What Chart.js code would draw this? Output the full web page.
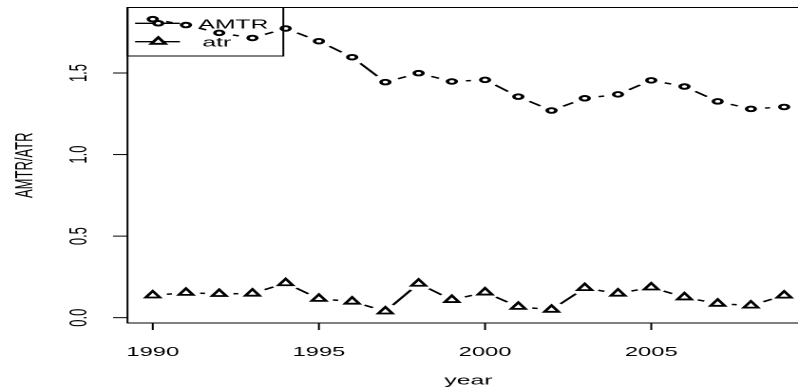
<!DOCTYPE html>
<html>
<head>
<meta charset="utf-8">
<script src="https://cdn.jsdelivr.net/npm/chart.js@4"></script>
<style>
  html, body { margin: 0; padding: 0; background: #fff; overflow: hidden; }
  /* the reference is an R plot stretched sideways, so draw narrow and widen */
  #wrap { width: 440px; height: 390px; transform: scaleX(1.9); transform-origin: 0 0; }
</style>
</head>
<body>
<div id="wrap"><canvas id="chart"></canvas></div>
<script>
// data
const years = [1990, 1991, 1992, 1993, 1994, 1995, 1996, 1997, 1998, 1999,
               2000, 2001, 2002, 2003, 2004, 2005, 2006, 2007, 2008, 2009];
const amtr = [1.830, 1.794, 1.746, 1.715, 1.773, 1.695, 1.597, 1.444, 1.499, 1.448,
              1.458, 1.355, 1.270, 1.345, 1.369, 1.455, 1.417, 1.326, 1.280, 1.292];
const atr = [0.137, 0.153, 0.146, 0.148, 0.212, 0.116, 0.099, 0.039, 0.209, 0.109,
             0.155, 0.067, 0.049, 0.182, 0.148, 0.186, 0.125, 0.086, 0.075, 0.136];
const xTicks = [1990, 1995, 2000, 2005];
const xTickLabels = ['1990', '1995', '2000', '2005'];
const yTicks = [0, 0.5, 1.0, 1.5];
const yTickLabels = ['0.0', '0.5', '1.0', '1.5'];
const seriesNames = ['AMTR', 'atr'];

// R style axis range: data range plus 4% each side
const allY = amtr.concat(atr);
const yLo = Math.min(...allY), yHi = Math.max(...allY);
const yPad = (yHi - yLo) * 0.04;
const xPad = (years[years.length - 1] - years[0]) * 0.04;

const pts = arr => years.map((y, i) => ({ x: y, y: arr[i] }));
const FONT = '"Liberation Sans", Arial, sans-serif';
const GAP = 7.5; // type="b" gap round each point

const axesPlugin = {
    id: 'rAxes',
    afterDraw(chart) {
        const ctx = chart.ctx;
        const a = chart.chartArea;
        const xs = chart.scales.x, ys = chart.scales.y;
        ctx.save();
        ctx.strokeStyle = '#000';
        ctx.fillStyle = '#000';
        ctx.lineWidth = 1;
        // box
        ctx.strokeRect(a.left, a.top, a.right - a.left, a.bottom - a.top);

        // x ticks and labels
        ctx.font = '12.5px ' + FONT;
        ctx.textAlign = 'center';
        ctx.textBaseline = 'middle';
        xTicks.forEach((v, i) => {
            const px = xs.getPixelForValue(v);
            ctx.beginPath();
            ctx.moveTo(px, a.bottom);
            ctx.lineTo(px, a.bottom + 7);
            ctx.stroke();
            ctx.fillText(xTickLabels[i], px, 352.5);
        });

        // y ticks and rotated labels
        ctx.font = '13px ' + FONT;
        yTicks.forEach((v, i) => {
            const py = ys.getPixelForValue(v);
            ctx.beginPath();
            ctx.moveTo(a.left, py);
            ctx.lineTo(a.left - 7.6, py);
            ctx.stroke();
            ctx.save();
            ctx.translate(42.1, py);
            ctx.rotate(-Math.PI / 2);
            ctx.fillText(yTickLabels[i], 0, 0);
            ctx.restore();
        });

        // axis titles
        ctx.font = '13px ' + FONT;
        ctx.fillText('year', (a.left + a.right) / 2, 381);
        ctx.save();
        ctx.translate(13.2, (a.top + a.bottom) / 2);
        ctx.rotate(-Math.PI / 2);
        ctx.fillText('AMTR/ATR', 0, 0);
        ctx.restore();

        // legend, no background like R
        const lx = a.left, ly = a.top, lw = 149.1 - a.left, lh = 56 - a.top;
        ctx.strokeRect(lx, ly, lw, lh);
        const rows = [23.3, 41.7];
        ctx.lineWidth = 1.3;
        rows.forEach(ry => {
            ctx.beginPath();
            ctx.moveTo(71.1, ry);
            ctx.lineTo(94.7, ry);
            ctx.stroke();
        });
        ctx.lineWidth = 1.9;
        ctx.beginPath();
        ctx.arc(83.3, rows[0], 2.3, 0, Math.PI * 2);
        ctx.fillStyle = '#fff';
        ctx.fill();
        ctx.stroke();
        const r = 4.3;
        ctx.beginPath();
        ctx.moveTo(83.3, rows[1] - r);
        ctx.lineTo(83.3 + r * 0.866, rows[1] + r / 2);
        ctx.lineTo(83.3 - r * 0.866, rows[1] + r / 2);
        ctx.closePath();
        ctx.fill();
        ctx.stroke();
        ctx.fillStyle = '#000';
        ctx.font = '13px ' + FONT;
        ctx.textAlign = 'left';
        ctx.fillText(seriesNames[0], 104.4, 25);
        ctx.fillText(seriesNames[1], 106.5, 43);
        ctx.restore();
    }
};

new Chart(document.getElementById('chart'), {
    type: 'scatter',
    data: {
        datasets: [
            { data: pts(amtr), showLine: true, borderColor: '#000', borderWidth: 1.5,
              pointRadius: 0, order: 3 },
            { data: pts(atr), showLine: true, borderColor: '#000', borderWidth: 1.5,
              pointRadius: 0, order: 3 },
            { data: pts(amtr), showLine: false, pointRadius: GAP, pointBorderWidth: 0,
              pointBackgroundColor: '#fff', order: 2 },
            { data: pts(atr), showLine: false, pointRadius: GAP, pointBorderWidth: 0,
              pointBackgroundColor: '#fff', order: 2 },
            { label: seriesNames[0], data: pts(amtr), showLine: false, pointStyle: 'circle',
              pointRadius: 2.3, pointBorderWidth: 1.9, pointBorderColor: '#000',
              pointBackgroundColor: 'rgba(0,0,0,0)', order: 1 },
            { label: seriesNames[1], data: pts(atr), showLine: false, pointStyle: 'triangle',
              pointRadius: 4.3, pointBorderWidth: 1.8, pointBorderColor: '#000',
              pointBackgroundColor: 'rgba(0,0,0,0)', order: 1 }
        ]
    },
    options: {
        responsive: true,
        maintainAspectRatio: false,
        animation: false,
        devicePixelRatio: 2,
        layout: { padding: { left: 67.1, right: 14, top: 7.5, bottom: 67 } },
        scales: {
            x: { type: 'linear', display: false,
                 min: years[0] - xPad, max: years[years.length - 1] + xPad },
            y: { type: 'linear', display: false, min: yLo - yPad, max: yHi + yPad }
        },
        plugins: { legend: { display: false }, tooltip: { enabled: false } }
    },
    plugins: [axesPlugin]
});
</script>
</body>
</html>
